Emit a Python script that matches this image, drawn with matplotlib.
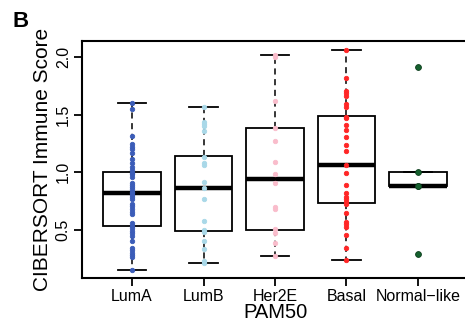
"""PAM50 subtype vs CIBERSORT immune score, boxplot with stripchart overlay."""

import matplotlib
matplotlib.use("Agg")
import matplotlib.pyplot as plt

plt.rcParams["font.family"] = ["Liberation Sans", "DejaVu Sans"]

groups = ["LumA", "LumB", "Her2E", "Basal", "Normal\u2212like"]
colors = ["#3b5cb8", "#a9d8e8", "#f9bccb", "#ff2626", "#15602e"]

# box stats: lower whisker, q1, median, q3, upper whisker
whis_lo = [0.151, 0.209, 0.275, 0.235, 0.878]
q1 = [0.533, 0.493, 0.499, 0.730, 0.878]
med = [0.823, 0.861, 0.945, 1.061, 0.884]
q3 = [1.000, 1.139, 1.383, 1.487, 1.000]
whis_hi = [1.606, 1.568, 2.017, 2.064, 1.000]

luma = [1.606, 1.548, 1.316, 1.246, 1.223, 1.200, 1.165, 1.113, 1.078, 1.049,
        1.020, 0.997, 0.986, 0.962, 0.910, 0.890, 0.875, 0.852, 0.832, 0.817,
        0.803, 0.788, 0.765, 0.725, 0.707, 0.678, 0.658, 0.638, 0.557, 0.533,
        0.513, 0.493, 0.470, 0.446, 0.406, 0.339, 0.325, 0.301, 0.281, 0.267,
        0.151]
lumb = [1.568, 1.441, 1.420, 1.403, 1.359, 1.136, 1.084, 1.061, 0.919, 0.861,
        0.768, 0.580, 0.499, 0.478, 0.406, 0.336, 0.232, 0.209]
her2e = [2.017, 2.006, 1.617, 1.383, 1.272, 1.090, 0.988, 0.904, 0.701, 0.684,
         0.504, 0.470, 0.388, 0.275]
basal = [2.064, 1.817, 1.710, 1.687, 1.667, 1.594, 1.571, 1.484, 1.470, 1.412,
         1.368, 1.310, 1.238, 1.188, 1.061, 0.991, 0.890, 0.817, 0.788, 0.765,
         0.745, 0.725, 0.643, 0.571, 0.551, 0.528, 0.455, 0.339, 0.235]
normal = [1.919, 1.000, 0.878, 0.878, 0.287]
points = [luma, lumb, her2e, basal, normal]


def main() -> None:
    fig = plt.figure(figsize=(4.65, 3.25), dpi=100)
    ax = fig.add_axes([0.1763, 0.1437, 0.8302, 0.7292])

    stats = [dict(whislo=whis_lo[i], q1=q1[i], med=med[i], q3=q3[i],
                  whishi=whis_hi[i], fliers=[]) for i in range(len(groups))]
    pos = list(range(1, len(groups) + 1))
    ax.bxp(stats, positions=pos, widths=0.8, showfliers=False,
           patch_artist=True,
           boxprops=dict(facecolor="white", edgecolor="black", linewidth=1.3),
           medianprops=dict(color="black", linewidth=3.2, solid_capstyle="butt"),
           whiskerprops=dict(color="black", linewidth=1.1,
                             linestyle=(0, (4, 3))),
           capprops=dict(color="black", linewidth=1.3), capwidths=0.4)

    for i, vals in enumerate(points):
        big = i == 4
        ax.plot([pos[i]] * len(vals), vals, "o", color=colors[i],
                markersize=4.2 if big else 3.2,
                markeredgecolor="#0b3d1b" if big else colors[i],
                markeredgewidth=0.6, zorder=5)

    ax.set_xlim(0.3, 5.7)
    ax.set_ylim(0.078, 2.139)
    ax.set_xticks(pos)
    ax.set_xticklabels(groups, fontsize=11.5)
    ax.set_yticks([0.5, 1.0, 1.5, 2.0])
    ax.set_yticklabels(["0.5", "1.0", "1.5", "2.0"], fontsize=11.5,
                       rotation=90, va="center")
    ax.tick_params(direction="out", length=6, width=1.3, pad=2)
    ax.spines["right"].set_visible(False)
    for s in ("left", "top", "bottom"):
        ax.spines[s].set_linewidth(1.5)
    ax.set_xlabel("PAM50", fontsize=14.5, labelpad=-1)
    ax.set_ylabel("CIBERSORT Immune Score", fontsize=15, labelpad=3)

    fig.text(0.026, 0.917, "B", fontsize=16, fontweight="bold")

    fig.savefig("out.png", dpi=100)


if __name__ == "__main__":
    main()
